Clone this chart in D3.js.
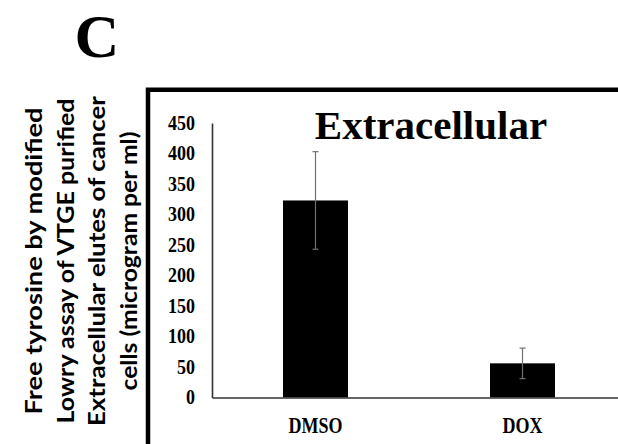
<!DOCTYPE html>
<html>
<head>
<meta charset="utf-8">
<script src="https://cdn.jsdelivr.net/npm/d3@7"></script>
<style>
  html, body { margin: 0; padding: 0; background: #fff; }
  svg { display: block; }
</style>
</head>
<body>
<svg id="chart" width="618" height="444"></svg>
<script>
const categories = ["DMSO", "DOX"];
const values = [323, 56];
const errors = [80, 25];
const yTicks = [0, 50, 100, 150, 200, 250, 300, 350, 400, 450];
const title = "Extracellular";
const panelLabel = "C";
const yLabelLines = [
  "Free tyrosine by modified",
  "Lowry assay of VTGE purified",
  "Extracellular elutes of cancer",
  "cells (microgram per ml)"
];

const SERIF = "'Liberation Serif', 'Times New Roman', serif";
const svg = d3.select("#chart");
const W = 618, H = 444;
svg.append("rect").attr("width", W).attr("height", H).attr("fill", "#fff");

// Panel label
svg.append("text")
  .attr("x", 97).attr("y", 57)
  .attr("text-anchor", "middle")
  .style("font-family", SERIF)
  .style("font-weight", "bold")
  .style("font-size", "62px")
  .attr("fill", "#000")
  .text(panelLabel);

// Frame
svg.append("path")
  .attr("d", `M148,${H + 5} L148,89.8 L${W + 5},89.8`)
  .attr("fill", "none")
  .attr("stroke", "#000")
  .attr("stroke-width", 4.5);

// Scales
const y = d3.scaleLinear().domain([0, 450]).range([397.5, 123]);
const x = d3.scaleBand().domain(categories).range([212, 626]).padding(0);
const barW = 65;

// Bars
svg.append("g").selectAll("rect").data(categories).join("rect")
  .attr("x", d => x(d) + x.bandwidth() / 2 - barW / 2)
  .attr("y", (d, i) => y(values[i]))
  .attr("width", barW)
  .attr("height", (d, i) => y(0) - y(values[i]))
  .attr("fill", "#000");

// Error bars
const eg = svg.append("g").attr("stroke", "#707070").attr("stroke-width", 1.2);
categories.forEach((c, i) => {
  const cx = x(c) + x.bandwidth() / 2;
  const top = y(values[i] + errors[i]), bot = y(values[i] - errors[i]);
  eg.append("line").attr("x1", cx).attr("x2", cx).attr("y1", top).attr("y2", bot);
  eg.append("line").attr("x1", cx - 3).attr("x2", cx + 3).attr("y1", top).attr("y2", top);
  eg.append("line").attr("x1", cx - 3).attr("x2", cx + 3).attr("y1", bot).attr("y2", bot);
});

// Y axis
const yAxis = svg.append("g")
  .attr("transform", "translate(212,0)")
  .call(d3.axisLeft(y).tickValues(yTicks).tickSize(0).tickPadding(17));
yAxis.select(".domain").attr("stroke", "#333").attr("stroke-width", 1.6);
yAxis.selectAll(".tick text")
  .attr("transform", "scale(1,1.2)")
  .attr("dy", "0.3em")
  .attr("font-family", SERIF)
  .style("font-family", SERIF)
  .style("font-weight", "bold")
  .style("font-size", "18px")
  .attr("fill", "#000");

// X axis
const xAxis = svg.append("g")
  .attr("transform", `translate(0,${y(0)})`)
  .call(d3.axisBottom(x).tickSize(0));
xAxis.select(".domain").attr("stroke", "#333").attr("stroke-width", 1.6);
xAxis.selectAll(".tick text")
  .attr("transform", "scale(1,1.25)")
  .attr("y", 28.6)
  .attr("dy", 0)
  .style("font-family", SERIF)
  .style("font-weight", "bold")
  .style("font-size", "18px")
  .attr("fill", "#000");

// Title
svg.append("text")
  .attr("x", 431).attr("y", 139)
  .attr("text-anchor", "middle")
  .style("font-family", SERIF)
  .style("font-weight", "bold")
  .style("font-size", "41px")
  .attr("fill", "#000")
  .text(title);

// Y label (stretched along its length, like the reference)
const lineLengths = [307, 325, 330, 259];
const yl = svg.append("g")
  .attr("transform", "translate(0,261) rotate(-90)");
yl.selectAll("text").data(yLabelLines).join("text")
  .attr("x", 0)
  .attr("y", (d, i) => 42 + i * 31.5)
  .attr("text-anchor", "middle")
  .attr("textLength", (d, i) => lineLengths[i])
  .attr("lengthAdjust", "spacingAndGlyphs")
  .style("font-family", "Lato, 'Open Sans', sans-serif")
  .style("font-weight", "bold")
  .style("font-size", "22px")
  .attr("fill", "#000")
  .text(d => d);
</script>
</body>
</html>
